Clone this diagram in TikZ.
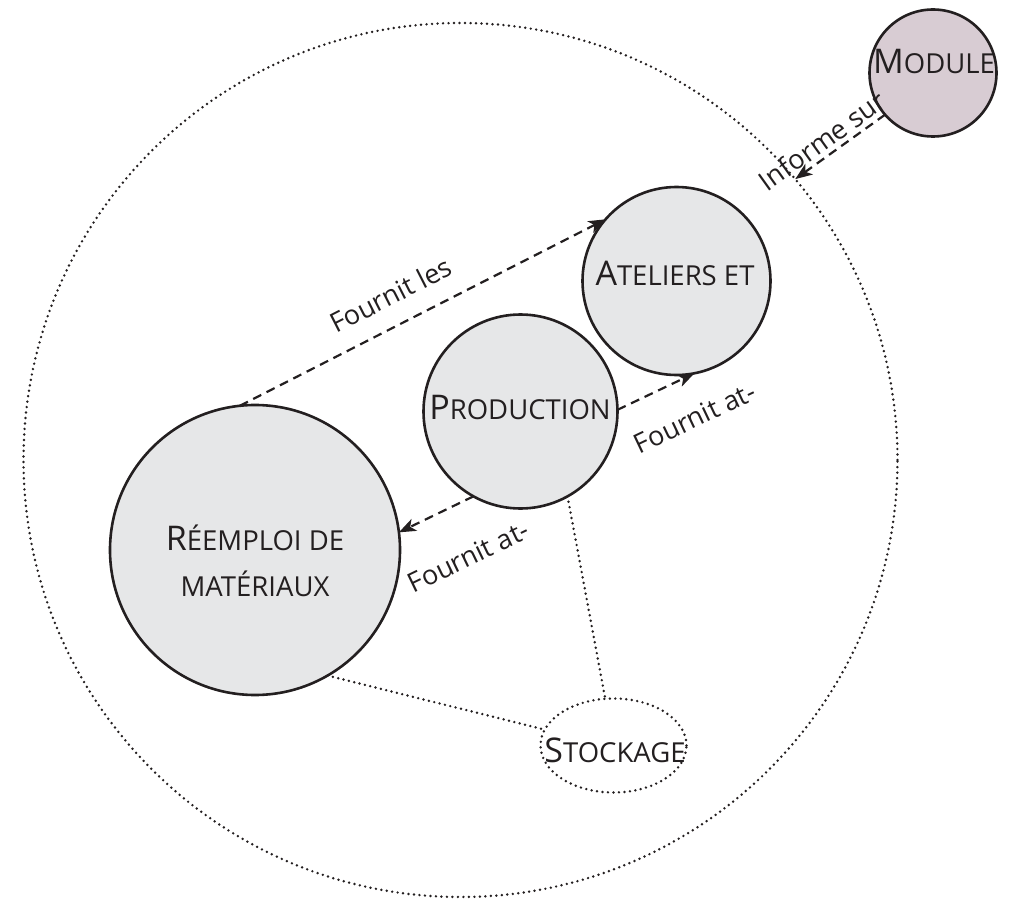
\documentclass[tikz,border=0pt]{standalone}
\usepackage{fontspec}
\setmainfont{Open Sans}
\usetikzlibrary{arrows.meta,shapes.geometric}
\definecolor{ink}{RGB}{35,31,32}
\definecolor{bubblegray}{RGB}{230,231,232}
\definecolor{modfill}{RGB}{216,204,211}
\newcommand{\initcap}[1]{{\fontsize{34}{46}\selectfont #1}}
\begin{document}
\begin{tikzpicture}[x=1pt,y=-1pt,
  bubble/.style={circle, draw=ink, line width=2.6pt, fill=bubblegray, inner sep=0pt, outer sep=0pt},
  sctext/.style={text=ink, font=\fontsize{27.5}{46}\selectfont, inner sep=0pt, align=center},
  lbl/.style={text=ink, font=\fontsize{27}{32}\selectfont, inner sep=0pt, sloped},
  flow/.style={draw=ink, line width=2.2pt, dash pattern=on 9pt off 6pt, -{Stealth[length=17pt,width=13pt,inset=4.5pt]}},
  dots/.style={draw=ink, line width=2.7pt, line cap=round, dash pattern=on 0pt off 5.5pt},
]
\useasboundingbox (0,0) rectangle (1034,912);
\node[circle, dots, minimum size=874pt, inner sep=0pt, outer sep=0pt] (outer) at (460.5,460) {};
\node[bubble, minimum size=290pt] (reemploi) at (255,550) {};
\node[bubble, minimum size=194pt] (production) at (520.5,411.5) {};
\node[bubble, minimum size=188pt] (ateliers) at (676.5,281) {};
\node[bubble, fill=modfill, minimum size=127pt] (module) at (933,73) {};
\node[ellipse, dots, minimum width=146pt, minimum height=94pt, inner sep=0pt, outer sep=0pt] (stockage) at (613.5,745.5) {};

\node[sctext] (reemploiT) at (255,561) {\initcap{R}ÉEMPLOI DE\\MATÉRIAUX};
\node[sctext] (productionT) at (520,407) {\initcap{P}RODUCTION};
\node[sctext] (ateliersT) at (675,273) {\initcap{A}TELIERS ET};
\node[sctext] (moduleT) at (934,62) {\initcap{M}ODULE};
\node[sctext] (stockageT) at (615,750) {\initcap{S}TOCKAGE};

\draw[flow] (reemploi.96) -- node[lbl, pos=0.45, above=19pt] (l1) {Fournit les} (ateliers.139);
\draw[flow] (production.1) -- node[lbl, pos=0.78, below=29pt] (l2) {Fournit at-} (ateliers.281);
\draw[flow] (production.241) -- node[lbl, pos=0.37, below=41pt] (l3) {Fournit at-} (reemploi.7);
\draw[flow] (module.221) -- node[lbl, pos=0.6, above=4pt] (l4) {Informe sur} (outer.40);

\draw[dots] (reemploi.300) -- (stockage.167);
\draw[dots] (production.299) -- (stockage.100);
\end{tikzpicture}
\end{document}
